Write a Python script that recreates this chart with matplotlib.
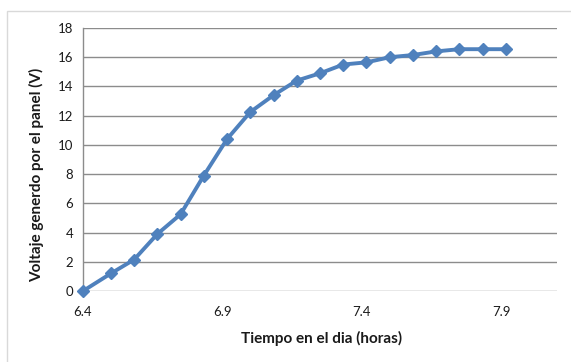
import matplotlib.pyplot as plt
from matplotlib.patches import Rectangle

# tiempo en horas (6:24, luego cada 5 min de 6:30 a 7:55)
hours = [6 + 24 / 60] + [6.5 + i * 5 / 60 for i in range(18)]
voltage = [0.0, 1.2, 2.15, 3.9, 5.25, 7.9, 10.4, 12.25, 13.4, 14.4, 14.9,
           15.5, 15.65, 16.0, 16.15, 16.4, 16.55, 16.55, 16.55]
x_ticks = [6.4, 6.9, 7.4, 7.9]
x_tick_labels = ["6.4", "6.9", "7.4", "7.9"]
y_ticks = [0, 2, 4, 6, 8, 10, 12, 14, 16, 18]

W, H = 571, 362
plt.rcParams["font.family"] = ["Lato", "DejaVu Sans"]

fig = plt.figure(figsize=(W / 100, H / 100), dpi=100)
fig.patch.set_facecolor("white")

# marco exterior del grafico
fig.patches.append(Rectangle((7 / W, -0.1), 1.2, 1 - 11 / H + 0.1,
                             transform=fig.transFigure, fill=False,
                             edgecolor="#d9d9d9", linewidth=1.0))

ax = fig.add_axes([83 / W, 1 - 291 / H, (557 - 83) / W, (291 - 28) / H])
ax.plot(hours, voltage, color="#4f81bd", linewidth=2.8, marker="D",
        markersize=6.5, markeredgecolor="#4f81bd", zorder=3, clip_on=False)

ax.set_xlim(6.4, 8.1)
ax.set_ylim(0, 18)
ax.set_xticks(x_ticks)
ax.set_xticklabels(x_tick_labels)
ax.set_yticks(y_ticks)
ax.grid(axis="y", color="#8c8c8c", linewidth=1.0)
ax.set_axisbelow(True)

for side in ["top", "right", "bottom"]:
    ax.spines[side].set_visible(False)
ax.spines["left"].set_color("#8c8c8c")
ax.spines["left"].set_linewidth(1.0)
ax.tick_params(axis="both", length=0, labelsize=9.5, colors="#1a1a1a")
ax.tick_params(axis="y", pad=7)
ax.tick_params(axis="x", pad=11)

fig.text(322 / W, 1 - 338 / H, "Tiempo en el dia (horas)", ha="center",
         va="center", fontsize=11, fontweight="bold", color="#1a1a1a")
fig.text(37 / W, 1 - 175 / H, "Voltaje generdo por el panel (V)", ha="center",
         va="center", rotation=90, fontsize=11, fontweight="bold",
         color="#1a1a1a")

fig.savefig("out.png", dpi=100)
